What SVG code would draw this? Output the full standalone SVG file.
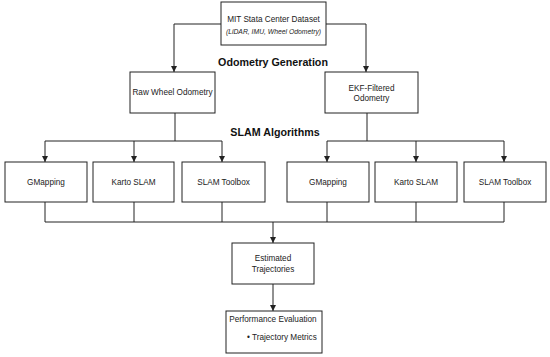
<svg xmlns="http://www.w3.org/2000/svg" width="550" height="357" viewBox="0 0 550 357">
<style>
.box{fill:#fff;stroke:#222;stroke-width:1}
.t{font-family:"Liberation Sans",Arial,sans-serif;font-size:8.2px;fill:#222;text-anchor:middle;dominant-baseline:central}
.s{font-family:"Liberation Sans",Arial,sans-serif;font-size:6.8px;font-style:italic;fill:#222;text-anchor:middle;dominant-baseline:central}
.h{font-family:"Liberation Sans",Arial,sans-serif;font-size:10.7px;font-weight:bold;fill:#111;text-anchor:middle;dominant-baseline:central}
.c{fill:none;stroke:#222;stroke-width:1}
</style>
<defs>
<marker id="a" viewBox="0 0 10 10" refX="10" refY="5" markerWidth="6" markerHeight="6" markerUnits="userSpaceOnUse" orient="auto">
<path d="M0,0 L10,5 L0,10 z" fill="#222"/>
</marker>
</defs>
<rect width="550" height="357" fill="#fff"/>
<g id="connectors">
<path class="c" d="M221,24 H174 V72" marker-end="url(#a)"/>
<path class="c" d="M326,24 H366 V72" marker-end="url(#a)"/>
<path class="c" d="M175,113 V141"/>
<path class="c" d="M45,141 H222"/>
<path class="c" d="M45,141 V162" marker-end="url(#a)"/>
<path class="c" d="M134,141 V162" marker-end="url(#a)"/>
<path class="c" d="M222,141 V162" marker-end="url(#a)"/>
<path class="c" d="M367,113 V141"/>
<path class="c" d="M327,141 H504"/>
<path class="c" d="M327,141 V162" marker-end="url(#a)"/>
<path class="c" d="M416,141 V162" marker-end="url(#a)"/>
<path class="c" d="M504,141 V162" marker-end="url(#a)"/>
<path class="c" d="M45,202 V222 M134,202 V222 M222,202 V222 M327,202 V222 M416,202 V222 M504,202 V222"/>
<path class="c" d="M45,222 H504"/>
<path class="c" d="M273,222 V243" marker-end="url(#a)"/>
<path class="c" d="M273,284 V311" marker-end="url(#a)"/>
</g>
<text class="h" x="273" y="62">Odometry Generation</text>
<text class="h" x="275" y="132">SLAM Algorithms</text>
<g id="dataset">
<rect class="box" x="221" y="2" width="105" height="43"/>
<text class="t" x="273.5" y="19">MIT Stata Center Dataset</text>
<text class="s" x="273.5" y="31">(LiDAR, IMU, Wheel Odometry)</text>
</g>
<g id="raw">
<rect class="box" x="130" y="72" width="85" height="41"/>
<text class="t" x="172.5" y="92.5">Raw Wheel Odometry</text>
</g>
<g id="ekf">
<rect class="box" x="325" y="72" width="93" height="41"/>
<text class="t" x="371.5" y="88">EKF-Filtered</text>
<text class="t" x="371.5" y="98.5">Odometry</text>
</g>
<g id="gm1">
<rect class="box" x="5" y="162" width="82" height="40"/>
<text class="t" x="46" y="182">GMapping</text>
</g>
<g id="karto1">
<rect class="box" x="93" y="162" width="81" height="40"/>
<text class="t" x="133.5" y="182">Karto SLAM</text>
</g>
<g id="tb1">
<rect class="box" x="182" y="162" width="83" height="40"/>
<text class="t" x="223.5" y="182">SLAM Toolbox</text>
</g>
<g id="gm2">
<rect class="box" x="287" y="162" width="82" height="40"/>
<text class="t" x="328" y="182">GMapping</text>
</g>
<g id="karto2">
<rect class="box" x="375" y="162" width="82" height="40"/>
<text class="t" x="416" y="182">Karto SLAM</text>
</g>
<g id="tb2">
<rect class="box" x="464" y="162" width="82" height="40"/>
<text class="t" x="505" y="182">SLAM Toolbox</text>
</g>
<g id="est">
<rect class="box" x="232" y="243" width="82" height="41"/>
<text class="t" x="273" y="258.5">Estimated</text>
<text class="t" x="273" y="269">Trajectories</text>
</g>
<g id="perf">
<rect class="box" x="226" y="311" width="96" height="42"/>
<text class="t" x="273" y="319.5">Performance Evaluation</text>
<text class="t" x="247" y="337" style="text-anchor:start">• Trajectory Metrics</text>
</g>
</svg>
